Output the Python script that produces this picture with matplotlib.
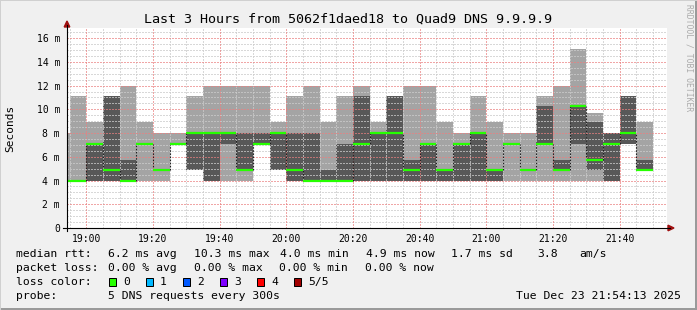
import matplotlib
matplotlib.use("Agg")
import matplotlib.pyplot as plt
from matplotlib.lines import Line2D
from matplotlib.patches import Rectangle, Polygon

# ---------------- data ----------------
bar_start = ["18:50", "18:55", "19:00", "19:05", "19:10", "19:15", "19:20", "19:25",
             "19:30", "19:35", "19:40", "19:45", "19:50", "19:55", "20:00", "20:05",
             "20:10", "20:15", "20:20", "20:25", "20:30", "20:35", "20:40", "20:45",
             "20:50", "20:55", "21:00", "21:05", "21:10", "21:15", "21:20", "21:25",
             "21:30", "21:35", "21:40", "21:45"]
step_minutes = 5
# sorted pings (ms): min, 2nd, median, 4th, max
ping1 = [4.0, 4.0, 4.0, 4.0, 4.0, 4.0, 4.0, 7.1, 4.9, 4.0, 4.0, 4.0, 7.1, 4.9, 4.0, 4.0,
         4.0, 4.0, 4.0, 4.0, 4.0, 4.0, 4.0, 4.0, 4.0, 4.0, 4.0, 4.0, 4.0, 4.0, 4.0, 4.0,
         4.0, 4.0, 7.1, 4.9]
ping2 = [4.0, 4.0, 4.0, 4.0, 4.0, 7.1, 4.9, 7.1, 4.9, 4.0, 7.1, 4.9, 7.1, 4.9, 4.0, 4.0,
         4.0, 4.0, 4.0, 4.0, 4.0, 4.0, 4.0, 4.0, 4.0, 4.0, 4.0, 7.1, 4.9, 7.1, 4.9, 7.1,
         4.9, 4.0, 7.1, 4.9]
median_rtt = [4.0, 4.0, 7.1, 4.9, 4.0, 7.1, 4.9, 7.1, 8.0, 8.0, 8.0, 4.9, 7.1, 8.0, 4.9, 4.0,
              4.0, 4.0, 7.1, 8.0, 8.0, 4.9, 7.1, 4.9, 7.1, 8.0, 4.9, 7.1, 4.9, 7.1, 4.9, 10.3,
              5.7, 7.1, 8.0, 4.9]
ping4 = [4.0, 4.0, 7.1, 11.1, 5.7, 7.1, 4.9, 7.1, 8.0, 8.0, 8.0, 8.0, 8.0, 8.0, 8.0, 8.0,
         4.9, 7.1, 11.1, 8.0, 11.1, 5.7, 7.1, 4.9, 7.1, 8.0, 4.9, 7.1, 4.9, 10.3, 5.7, 10.3,
         8.9, 8.0, 11.1, 5.7]
ping5 = [8.0, 11.1, 8.9, 11.1, 12.0, 8.9, 8.0, 8.0, 11.1, 12.0, 12.0, 12.0, 12.0, 8.9, 11.1, 12.0,
         8.9, 11.1, 12.0, 8.9, 11.1, 12.0, 12.0, 8.9, 8.0, 11.1, 8.9, 8.0, 8.0, 11.1, 12.0, 15.1,
         9.7, 8.0, 11.1, 8.9]

view_start = "18:54:13"
view_end = "21:54:13"
x_major = ["19:00", "19:20", "19:40", "20:00", "20:20", "20:40", "21:00", "21:20", "21:40"]
y_ticks = [0, 2, 4, 6, 8, 10, 12, 14, 16]
y_labels = ["0", "2 m", "4 m", "6 m", "8 m", "10 m", "12 m", "14 m", "16 m"]
y_top = 16.85

title = "Last 3 Hours from 5062f1daed18 to Quad9 DNS 9.9.9.9"
rtt_stats = ["6.2 ms avg", "10.3 ms max", "4.0 ms min", "4.9 ms now", "1.7 ms sd", "3.8", "am/s"]
loss_stats = ["0.00 % avg", "0.00 % max", "0.00 % min", "0.00 % now"]
loss_labels = ["0", "1", "2", "3", "4", "5/5"]
loss_colors = ["#26ff00", "#00b8ff", "#0059ff", "#7e00ff", "#ff0000", "#a10000"]
probe_text = "5 DNS requests every 300s"
stamp = "Tue Dec 23 21:54:13 2025"
watermark = "RRDTOOL / TOBI OETIKER"


def to_min(s):
    parts = [int(p) for p in s.split(":")]
    while len(parts) < 3:
        parts.append(0)
    return (parts[0] - 19) * 60 + parts[1] + parts[2] / 60.0


# ---------------- figure ----------------
W, H = 697, 310
MONO = "DejaVu Sans Mono"
plt.rcParams["font.family"] = MONO

fig = plt.figure(figsize=(W / 100, H / 100), dpi=100)
fig.patch.set_facecolor("#f0f0f0")


def fx(x):
    return x / W


def fy(y):
    return 1 - y / H


ax = fig.add_axes([fx(67), fy(228), 600 / W, 200 / H])
ax.set_facecolor("white")
for sp in ax.spines.values():
    sp.set_visible(False)

starts = [to_min(s) for s in bar_start]
ends = [s + step_minutes for s in starts]
xs = starts + [ends[-1]]


def ext(v):
    return list(v) + [v[-1]]


ax.fill_between(xs, ext(ping1), ext(ping5), step="post", color="#a4a4a4", lw=0, zorder=1)
ax.fill_between(xs, ext(ping2), ext(ping4), step="post", color="#585858", lw=0, zorder=1.1)

# grid (drawn over smoke)
minor_col = (0.80, 0.80, 0.80, 0.75)
major_col = (0.92, 0.50, 0.50, 0.7)
DOT = (0, (1.4, 1.4))
xmaj = [to_min(s) for s in x_major]
t = to_min("18:55")
while t < to_min(view_end):
    if all(abs(t - m) > 1e-6 for m in xmaj):
        ax.axvline(t, color=minor_col, lw=0.72, ls=DOT, zorder=2, antialiased=False)
    t += step_minutes
for m in xmaj:
    ax.axvline(m, color=major_col, lw=0.72, ls=DOT, zorder=2.1, antialiased=False)
yv = 0.5
while yv < y_top:
    if abs(yv / 2 - round(yv / 2)) > 1e-6:
        ax.axhline(yv, color=minor_col, lw=0.72, ls=DOT, zorder=2, antialiased=False)
    yv += 0.5
for yt in y_ticks[1:]:
    ax.axhline(yt, color=major_col, lw=0.72, ls=DOT, zorder=2.1, antialiased=False)

# median transitions and median line
for i in range(len(median_rtt) - 1):
    if median_rtt[i] != median_rtt[i + 1]:
        ax.vlines(ends[i], min(median_rtt[i], median_rtt[i + 1]),
                  max(median_rtt[i], median_rtt[i + 1]),
                  colors="#202020", lw=0.8, linestyles=(0, (1.4, 1.4)), zorder=3)
ax.hlines(median_rtt, starts, ends, colors=loss_colors[0], lw=1.6, zorder=4)

ax.set_xlim(to_min(view_start), to_min(view_end))
ax.set_ylim(0, y_top)

ax.set_xticks(xmaj)
ax.set_xticklabels(x_major)
ax.set_yticks(y_ticks)
ax.set_yticklabels(y_labels)
ax.tick_params(axis="both", length=0, labelsize=7, colors="black")
ax.tick_params(axis="x", pad=4)
ax.tick_params(axis="y", pad=5)

# axis lines and arrows
fig.add_artist(Line2D([fx(67), fx(67)], [fy(231), fy(25)], color="black", lw=0.8,
                      transform=fig.transFigure))
fig.add_artist(Line2D([fx(63), fx(670)], [fy(228), fy(228)], color="black", lw=0.8,
                      transform=fig.transFigure))
fig.add_artist(Polygon([[fx(67), fy(21)], [fx(64.2), fy(27)], [fx(69.8), fy(27)]],
                       closed=True, color="#a01010", transform=fig.transFigure))
fig.add_artist(Polygon([[fx(674), fy(228)], [fx(668), fy(225.2)], [fx(668), fy(230.8)]],
                       closed=True, color="#a01010", transform=fig.transFigure))

# titles
fig.text(fx(348), fy(19), title, ha="center", va="center", fontsize=9.6)
fig.text(fx(10), fy(128), "Seconds", ha="center", va="center", rotation=90, fontsize=8)
fig.text(fx(689), fy(4), watermark, ha="center", va="top", rotation=270,
         fontsize=5.8, color="#ababab")

LF = 8.2
# legend line 1
fig.text(fx(16), fy(254), "median rtt:", ha="left", va="center", fontsize=LF)
for s, x in zip(rtt_stats, [107.6, 193.8, 280, 365.8, 451, 537, 579]):
    fig.text(fx(x), fy(254), s, ha="left", va="center", fontsize=LF)
# legend line 2
fig.text(fx(16), fy(268), "packet loss:", ha="left", va="center", fontsize=LF)
for s, x in zip(loss_stats, [107.6, 193.8, 279, 365.3]):
    fig.text(fx(x), fy(268), s, ha="left", va="center", fontsize=LF)
# legend line 3
fig.text(fx(16), fy(282), "loss color:", ha="left", va="center", fontsize=LF)
box_x = [108.5, 145.5, 182.5, 219.5, 256.5, 293.5]
for lab, col, bx in zip(loss_labels, loss_colors, box_x):
    fig.add_artist(Rectangle((fx(bx), fy(286)), 7.5 / W, 8 / H, transform=fig.transFigure,
                             facecolor=col, edgecolor="black", lw=0.72))
    fig.text(fx(bx + 14.5), fy(282), lab, ha="left", va="center", fontsize=LF)
# legend line 4
fig.text(fx(16), fy(296), "probe:", ha="left", va="center", fontsize=LF)
fig.text(fx(107.6), fy(296), probe_text, ha="left", va="center", fontsize=LF)
fig.text(fx(681), fy(296), stamp, ha="right", va="center", fontsize=LF)

# frame shading
fig.add_artist(Rectangle((0, 0), 1, 2 / H, transform=fig.transFigure, color="#9a9a9a", lw=0))
fig.add_artist(Rectangle((1 - 2 / W, 0), 2 / W, 1, transform=fig.transFigure, color="#9a9a9a", lw=0))
fig.add_artist(Rectangle((0, 1 - 1 / H), 1, 1 / H, transform=fig.transFigure, color="#d0d0d0", lw=0))
fig.add_artist(Rectangle((0, 0), 1 / W, 1, transform=fig.transFigure, color="#d0d0d0", lw=0))

fig.savefig("out.png", dpi=100, facecolor=fig.get_facecolor())
